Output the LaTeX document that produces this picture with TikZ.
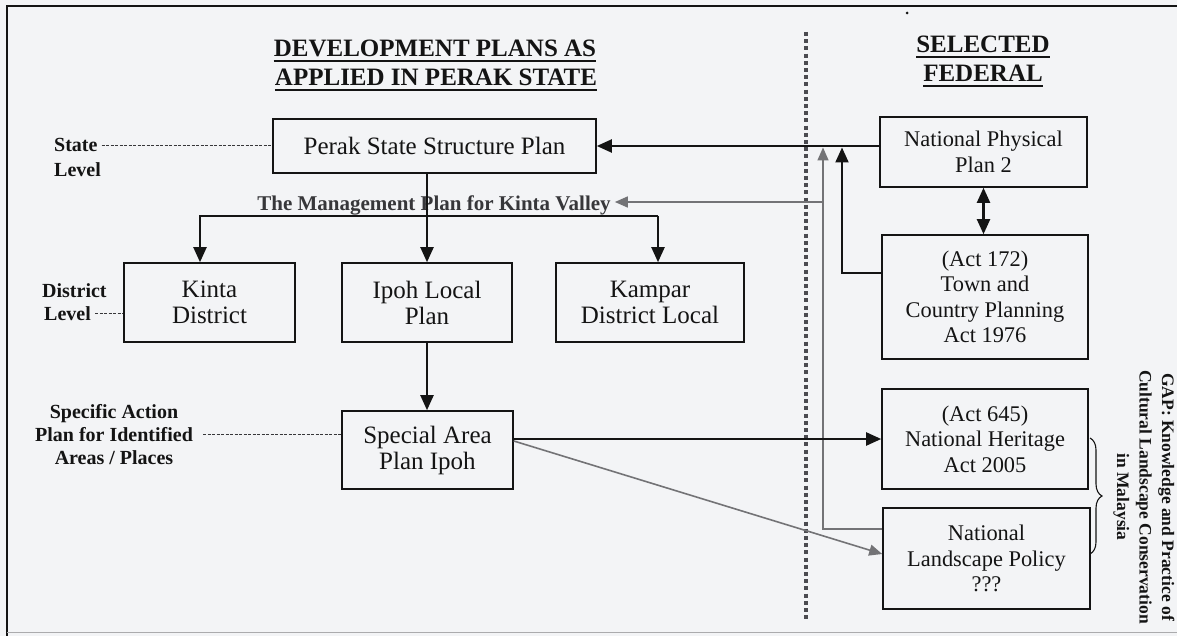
\documentclass[tikz,border=0pt]{standalone}
\usepackage{fontspec}
\setmainfont{Liberation Serif}
\usetikzlibrary{arrows.meta,decorations.pathreplacing,calc}
\definecolor{bg}{RGB}{243,244,246}
\definecolor{ink}{RGB}{20,20,20}
\definecolor{lgray}{RGB}{115,115,118}
\definecolor{dgray}{RGB}{55,55,58}
\definecolor{dotc}{RGB}{75,75,80}
\begin{document}
\begin{tikzpicture}[x=1pt,y=-1pt,
 box/.style={draw=ink,line width=1.6pt,fill=bg,inner sep=0pt,align=center,text=ink},
 lbox/.style={box,font=\fontsize{25}{26}\selectfont},
 rbox/.style={box,font=\fontsize{22.4}{25.5}\selectfont},
 lab/.style={font=\bfseries\fontsize{20}{23}\selectfont,text=ink,inner sep=0pt},
 ttl/.style={font=\bfseries\fontsize{25}{29}\selectfont,text=ink,inner sep=0pt},
 uline/.style={draw=ink,line width=1.8pt},
 arr/.style={draw=ink,line width=2.1pt,line join=miter,-{Triangle[length=15pt,width=13pt]}},
 dbl/.style={draw=ink,line width=2.1pt,{Triangle[length=15pt,width=13pt]}-{Triangle[length=15pt,width=13pt]}},
 garr/.style={draw=lgray,line width=1.6pt,-{Triangle[length=13pt,width=11pt]}},
 lvl/.style={draw=dgray,line width=0.9pt,dash pattern=on 3pt off 1.5pt},
]
\fill[bg] (0,0) rectangle (1177,636);
\useasboundingbox (0,0) rectangle (1177,636);
% frame
\draw[ink,line width=1.6pt] (1177,6) -- (7,6) -- (7,636);
\draw[lgray!60,line width=1pt] (7,632) -- (1177,632);
\fill[ink] (907,13) circle (1.5pt);

% divider
\draw[dotc,line width=4.5pt,dash pattern=on 4pt off 3.2pt] (806,32) -- (806,619);

% titles
\node[ttl,anchor=base] (t1) at (435,57) {DEVELOPMENT PLANS AS};
\node[ttl,anchor=base] (t2) at (436,86) {APPLIED IN PERAK STATE};
\node[ttl,anchor=base] (t3) at (983,53) {SELECTED};
\node[ttl,anchor=base] (t4) at (983,82) {FEDERAL};
\foreach \t in {t1,t2,t3,t4}{\draw[uline] ([yshift=-4pt]\t.base west) -- ([yshift=-4pt]\t.base east);}

% boxes
\node[lbox,minimum width=323pt,minimum height=54pt] (perak) at (434.5,146) {Perak State Structure Plan};
\node[lbox,minimum width=171pt,minimum height=79pt] (kinta) at (209.5,302.5) {Kinta\\District};
\node[lbox,minimum width=170pt,minimum height=79pt] (ipoh) at (427,302.5) {Ipoh Local\\Plan};
\node[lbox,minimum width=188pt,minimum height=79pt] (kampar) at (650,302.5) {Kampar\\District Local};
\node[lbox,minimum width=171pt,minimum height=78pt] (special) at (427.5,450) {Special Area\\Plan Ipoh};
\node[rbox,minimum width=207pt,minimum height=70pt] (npp) at (983.5,152) {National Physical\\Plan 2};
\node[rbox,minimum width=206pt,minimum height=124pt] (tcpa) at (985,297) {(Act 172)\\Town and\\Country Planning\\Act 1976};
\node[rbox,minimum width=206pt,minimum height=100pt] (nha) at (985,439) {(Act 645)\\National Heritage\\Act 2005};
\node[rbox,minimum width=207pt,minimum height=101pt] (nlp) at (986.5,558.5) {National\\Landscape Policy\\???};

% level labels
\node[lab,anchor=base west] (sl1) at (54,152) {State};
\node[lab,anchor=base west] (sl2) at (54,177) {Level};
\draw[lvl] ([xshift=4pt]sl1.east) -- (sl1.east -| perak.west);
\node[lab,anchor=base west] (dl1) at (42,297) {District};
\node[lab,anchor=base west] (dl2) at (44,320) {Level};
\draw[lvl] ([xshift=4pt]dl2.east) -- (dl2.east -| kinta.west);
\node[lab,anchor=base] (sp1) at (114,418) {Specific Action};
\node[lab,anchor=base] (sp2) at (114,441) {Plan for Identified};
\node[lab,anchor=base] (sp3) at (114,464) {Areas / Places};
\draw[lvl] ([xshift=10pt]sp2.east) -- (sp2.east -| special.west);

% management plan
\node[font=\bfseries\fontsize{21}{24}\selectfont,text=dgray,anchor=base,inner xsep=4pt,inner ysep=2pt] (mgmt) at (434,211) {The Management Plan for Kinta Valley};

% state-level connectors
\coordinate (bl) at (200,216);
\coordinate (brr) at (658,216);
\draw[arr] (brr) -- (bl) -- (bl |- kinta.north);
\draw[arr] (brr) -- (brr |- kampar.north);
\draw[arr] (perak.south -| ipoh.north) -- (ipoh.north);
\draw[arr] (ipoh.south) -- (special.north -| ipoh.south);

% federal connectors
\draw[arr] (npp.west |- perak.east) -- (perak.east);
\draw[dbl] (npp.south) -- (npp.south |- tcpa.north);
\coordinate (upA) at (842,147.5);
\coordinate (upB) at (823,147.5);
\coordinate (gj) at (823,202);
\draw[arr] ([yshift=24pt]tcpa.west) -| (upA);
\draw[garr] ([yshift=29.5pt]nlp.west) -| (upB);
\draw[garr] (gj) -- (gj -| mgmt.east);
\draw[arr] (special.east |- nha.west) -- (nha.west);
\draw[garr] ([yshift=9pt]special.east) -- ([yshift=4.5pt]nlp.west);

% brace and gap text
\coordinate (b1) at (1090,438);
\coordinate (b2) at (1090,554);
\draw[ink,line width=1.1pt,decorate,decoration={brace,amplitude=12pt}] (b1) -- (b2);
\node[rotate=-90,font=\bfseries\fontsize{17.5}{22.5}\selectfont,text=ink,align=center,inner sep=0pt] (gap) at (1144,497) {GAP: Knowledge and Practice of\\Cultural Landscape Conservation\\in Malaysia};
\end{tikzpicture}
\end{document}
